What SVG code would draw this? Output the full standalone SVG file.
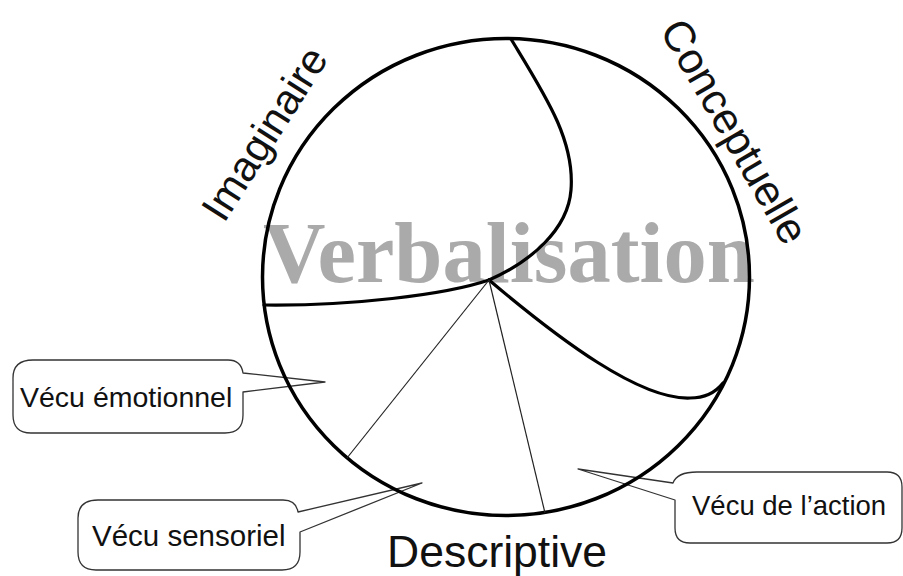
<svg xmlns="http://www.w3.org/2000/svg" width="903" height="576" viewBox="0 0 903 576">
<style>
.lbl{font-family:"Liberation Sans",Arial,sans-serif;fill:#111}
.call{fill:#fff;stroke:#333;stroke-width:1.3;stroke-linejoin:round}
.thick{fill:none;stroke:#000;stroke-width:3.2;stroke-linecap:round}
.thin{fill:none;stroke:#222;stroke-width:1.2}
</style>
<rect width="903" height="576" fill="#fff"/>
<g id="title">
<text x="263" y="282" font-family="'Liberation Serif','Times New Roman',serif" font-weight="bold" font-size="86.5" fill="#aaaaaa">Verbalisation</text>
</g>
<g id="callout-emotionnel">
<path class="call" d="M33,360 H228 Q241,360 243,373 L325,382 L243,392 V415 Q243,433 225,433 H31 Q13,433 13,415 V378 Q13,360 33,360 Z"/>
<text class="lbl" x="20" y="407" font-size="28.5">Vécu émotionnel</text>
</g>
<g id="callout-sensoriel">
<path class="call" d="M98,500 H283 Q296,500 298,512 L422,483 L300,532 V552 Q300,570 282,570 H96 Q78,570 78,552 V518 Q78,500 98,500 Z"/>
<text class="lbl" x="92" y="546" font-size="29.5">Vécu sensoriel</text>
</g>
<g id="callout-action">
<path class="call" d="M697,472 H887 Q902,472 902,487 V528 Q902,543 887,543 H690 Q675,543 675,528 V500 L578,469 L673,483 Q677,472 697,472 Z"/>
<text class="lbl" x="692" y="515" font-size="27.5">Vécu de l’action</text>
</g>
<g id="circle">
<ellipse cx="506" cy="277" rx="243.5" ry="238.5" fill="none" stroke="#000" stroke-width="3.5"/>
</g>
<g id="connectors">
<path class="thick" d="M511,39 C545,95 575,140 571,190 C568,230 530,262 489,280"/>
<path class="thick" d="M489,280 C445,295 350,306 264,305"/>
<path class="thick" d="M489,280 C560,340 640,400 690,398 C705,398 716,392 723,383"/>
<path class="thin" d="M489,280 L347,458"/>
<path class="thin" d="M489,280 L545,513"/>
</g>
<g id="label-imaginaire">
<text class="lbl" font-size="42" transform="translate(224,224) rotate(-57.5)">Imaginaire</text>
</g>
<g id="label-conceptuelle">
<text class="lbl" font-size="43" transform="translate(659,30) rotate(60)">Conceptuelle</text>
</g>
<g id="label-descriptive">
<text class="lbl" x="387" y="567" font-size="44.5">Descriptive</text>
</g>
</svg>
